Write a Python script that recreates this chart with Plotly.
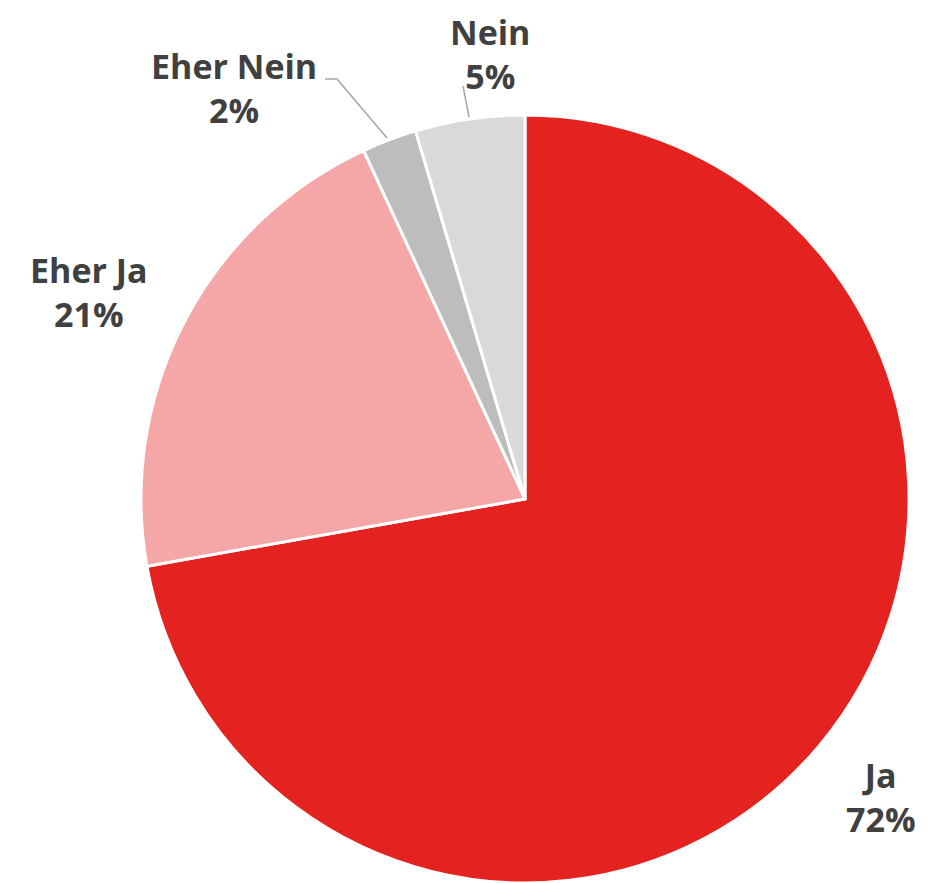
import plotly.graph_objects as go

categories = ["Ja", "Eher Ja", "Eher Nein", "Nein"]
values = [72.2, 20.9, 2.3, 4.6]
colors = ["#E42320", "#F4A7A6", "#BDBDBD", "#D9D9D9"]

W, H = 930, 883
OFF = 8  # default page body margin in the browser


def px_x(x):
    return (x - OFF) / W


def px_y(y):
    return 1 - (y - OFF) / H


fig = go.Figure(go.Pie(
    labels=categories,
    values=values,
    sort=False,
    direction="clockwise",
    rotation=0,
    marker=dict(colors=colors, line=dict(color="white", width=3)),
    textinfo="none",
    hoverinfo="label+percent",
    domain=dict(x=[px_x(141), px_x(909)], y=[px_y(883), px_y(115)]),
    showlegend=False,
))

# label block positions in pixels: (x center, y, anchor)
label_pos = {
    "Ja": (881, 797, "middle"),
    "Eher Ja": (89, 292, "middle"),
    "Eher Nein": (234, 88, "middle"),
    "Nein": (490, 8, "top"),
}
annotations = []
font = dict(family="Open Sans", size=34, color="#404040", weight="bold")
for cat, v in zip(categories, values):
    x, y, anc = label_pos[cat]
    annotations.append(dict(
        x=px_x(x), y=px_y(y), xref="paper", yref="paper",
        text=f"{cat}<br>{round(v)}%", showarrow=False, font=font,
        xanchor="center", yanchor=anc, align="center", borderpad=0,
    ))

leader = dict(color="#A6A6A6", width=1.5)
shapes = [
    dict(type="path", xref="paper", yref="paper",
         path=f"M {px_x(325)},{px_y(79)} L {px_x(337)},{px_y(79)} L {px_x(387)},{px_y(138)}",
         line=leader),
    dict(type="line", xref="paper", yref="paper",
         x0=px_x(463), y0=px_y(86), x1=px_x(469), y1=px_y(117), line=leader),
]

fig.update_layout(
    width=W, height=H,
    margin=dict(l=0, r=0, t=0, b=0),
    paper_bgcolor="white", plot_bgcolor="white",
    annotations=annotations, shapes=shapes,
)
fig.write_html("out.html")
